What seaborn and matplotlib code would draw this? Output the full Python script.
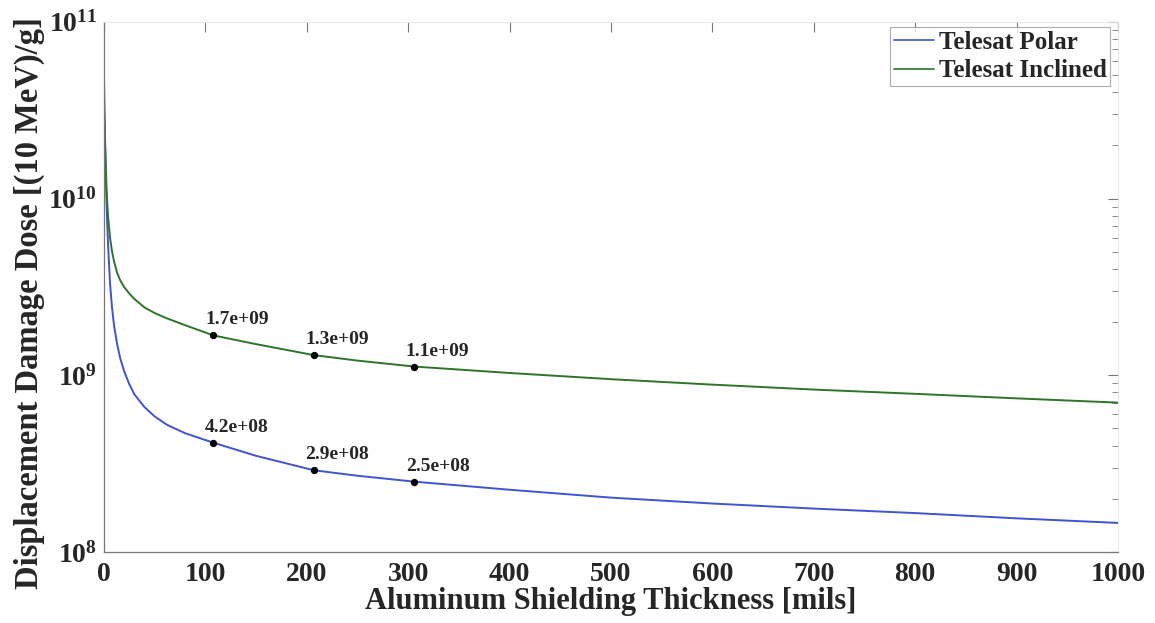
import numpy as np
import pandas as pd
import matplotlib
matplotlib.use("Agg")
import matplotlib.pyplot as plt
import seaborn as sns
from matplotlib.ticker import FixedLocator, FuncFormatter, LogLocator, NullFormatter

# ---- data ----
thickness = [0, 1, 2, 3, 4, 6, 8, 10, 13, 16, 20, 25, 30, 40, 50, 62, 80, 108,
             150, 207, 250, 306, 400, 500, 600, 700, 800, 900, 1000]
polar = [4.9e10, 2.3e10, 1.2e10, 7.8e9, 5.6e9, 3.3e9, 2.4e9, 1.9e9, 1.5e9, 1.25e9,
         1.05e9, 8.9e8, 7.8e8, 6.6e8, 5.85e8, 5.25e8, 4.7e8, 4.15e8,
         3.5e8, 2.9e8, 2.7e8, 2.5e8, 2.25e8, 2.03e8, 1.88e8, 1.76e8, 1.66e8, 1.55e8, 1.46e8]
inclined = [3.4e10, 2.1e10, 1.4e10, 1.0e10, 8.0e9, 6.0e9, 5.0e9, 4.4e9, 3.8e9, 3.45e9,
            3.15e9, 2.9e9, 2.7e9, 2.42e9, 2.25e9, 2.1e9, 1.92e9, 1.68e9,
            1.5e9, 1.3e9, 1.21e9, 1.12e9, 1.03e9, 0.95e9, 0.885e9, 0.83e9, 0.785e9, 0.74e9, 0.70e9]
series_names = ["Telesat Polar", "Telesat Inclined"]
mark_x = [108, 207, 306]
polar_marks = [4.15e8, 2.9e8, 2.5e8]
inclined_marks = [1.68e9, 1.3e9, 1.12e9]
polar_labels = ["4.2e+08", "2.9e+08", "2.5e+08"]
inclined_labels = ["1.7e+09", "1.3e+09", "1.1e+09"]
x_ticks = [0, 100, 200, 300, 400, 500, 600, 700, 800, 900, 1000]
y_ticks = [1e8, 1e9, 1e10, 1e11]

colors = {"Telesat Polar": "#4054d0", "Telesat Inclined": "#2f742a"}

df = pd.DataFrame({
    "x": thickness * 2,
    "y": polar + inclined,
    "series": [series_names[0]] * len(thickness) + [series_names[1]] * len(thickness),
})

sns.set_theme(style="white")
plt.rcParams["font.family"] = ["Liberation Serif", "DejaVu Serif"]
plt.rcParams["font.weight"] = "bold"
plt.rcParams["mathtext.fontset"] = "custom"
plt.rcParams["mathtext.rm"] = "Liberation Serif:bold"
plt.rcParams["mathtext.bf"] = "Liberation Serif:bold"

fig = plt.figure(figsize=(11.55, 6.23), dpi=100)
ax = fig.add_axes([0.090, 0.114, 0.878, 0.851])

sns.lineplot(data=df, x="x", y="y", hue="series", palette=colors, ax=ax,
             linewidth=1.4, legend=False, estimator=None, sort=True)
ax.set_yscale("log")
ax.set_xlim(0, 1000)
ax.set_ylim(1e8, 1e11)

# marked points + labels
for xs, ys, labs in [(mark_x, inclined_marks, inclined_labels),
                     (mark_x, polar_marks, polar_labels)]:
    ax.scatter(xs, ys, s=18, color="black", zorder=5)
    for xv, yv, lab in zip(xs, ys, labs):
        ax.annotate(lab, (xv, yv), xytext=(-6, 5), textcoords="offset points",
                    ha="left", va="bottom", fontsize=14, fontweight="bold")

# ticks
ax.xaxis.set_major_locator(FixedLocator(x_ticks))
ax.yaxis.set_major_locator(FixedLocator(y_ticks))
ax.yaxis.set_minor_locator(LogLocator(base=10, subs=np.arange(2, 10)))
ax.yaxis.set_minor_formatter(NullFormatter())
ax.yaxis.set_major_formatter(FuncFormatter(lambda v, p: r"$\mathbf{10^{%d}}$" % round(np.log10(v))))
ax.tick_params(axis="both", which="both", direction="in", color="#777777",
               top=True, right=True)
ax.tick_params(axis="x", labelsize=20, pad=7)
ax.tick_params(axis="y", labelsize=20, pad=5)
ax.tick_params(axis="both", which="major", length=7, width=0.8)
ax.tick_params(axis="both", which="minor", length=4, width=0.6)
for lab in ax.get_xticklabels() + ax.get_yticklabels():
    lab.set_fontweight("bold")

for side in ["left", "bottom"]:
    ax.spines[side].set_color("#777777")
    ax.spines[side].set_linewidth(0.9)
for side in ["top", "right"]:
    ax.spines[side].set_color("#e6e6e6")
    ax.spines[side].set_linewidth(0.6)

ax.set_xlabel("Aluminum Shielding Thickness [mils]", fontsize=22, fontweight="bold", labelpad=0)
ax.set_ylabel("Displacement Damage Dose [(10 MeV)/g]", fontsize=23.5, fontweight="bold")
ax.yaxis.set_label_coords(-0.058, 0.47)

handles = [plt.Line2D([], [], color=colors[n], linewidth=1.2) for n in series_names]
leg = ax.legend(handles, series_names, loc="upper right", bbox_to_anchor=(0.9925, 0.99),
                frameon=True, fancybox=False, handlelength=1.6, handletextpad=0.2,
                borderpad=0.15, labelspacing=0.22, borderaxespad=0.0,
                prop={"size": 18, "weight": "bold"})
leg.get_frame().set_edgecolor("#999999")
leg.get_frame().set_linewidth(0.8)

fig.savefig("out.png", dpi=100)
